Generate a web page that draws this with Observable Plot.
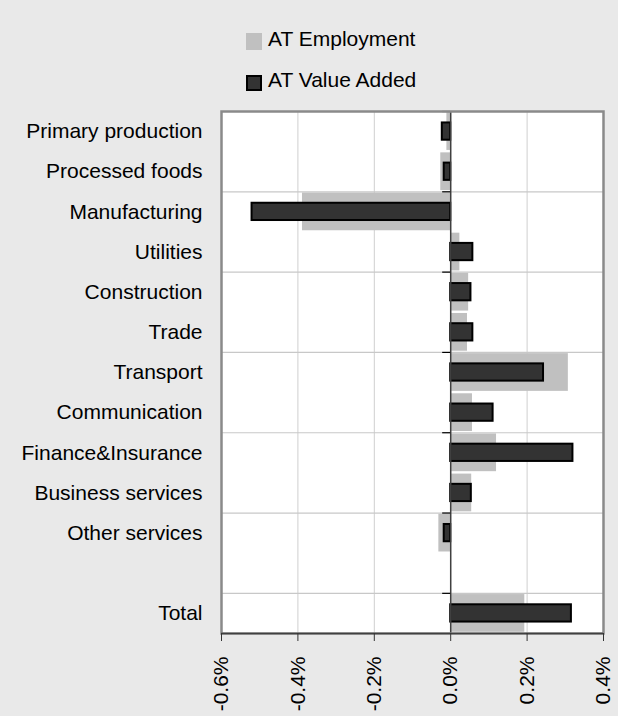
<!DOCTYPE html>
<html>
<head>
<meta charset="utf-8">
<script src="https://cdn.jsdelivr.net/npm/d3@7"></script>
<script src="https://cdn.jsdelivr.net/npm/@observablehq/plot@0.6"></script>
<style>
  html, body { margin: 0; padding: 0; background: #e9e9e9; }
  body { width: 618px; height: 716px; overflow: hidden; font-family: "Liberation Sans", Arial, sans-serif; }
  #legend { position: relative; height: 100px; width: 618px; }
  .sw { position: absolute; box-sizing: border-box; }
  .lt { position: absolute; font-size: 21px; line-height: 21px; color: #000; white-space: nowrap; }
  #chart svg { display: block; }
</style>
</head>
<body>
<div id="legend">
  <div class="sw" style="left:246px;top:33px;width:16px;height:17px;background:#c0c0c0;"></div>
  <div class="lt" style="left:268px;top:28px;">AT Employment</div>
  <div class="sw" style="left:246px;top:75px;width:16px;height:16px;background:#333333;border:2px solid #000;"></div>
  <div class="lt" style="left:268px;top:69px;">AT Value Added</div>
</div>
<div id="chart"></div>
<script>
const categories = ["Primary production", "Processed foods", "Manufacturing", "Utilities", "Construction", "Trade", "Transport", "Communication", "Finance&Insurance", "Business services", "Other services", "", "Total"];
const employment = [-0.010, -0.026, -0.388, 0.024, 0.047, 0.044, 0.308, 0.057, 0.120, 0.055, -0.031, null, 0.194];
const valueAdded = [-0.022, -0.017, -0.520, 0.058, 0.053, 0.058, 0.243, 0.111, 0.320, 0.054, -0.017, null, 0.316];
const xTicks = [-0.6, -0.4, -0.2, 0.0, 0.2, 0.4];

const rows = categories.map((c, i) => ({cat: c, i, emp: employment[i], va: valueAdded[i]}));
const bars = rows.filter(d => d.emp != null);
const gridBounds = d3.range(1.5, 12, 2);
const tickBounds = d3.range(-0.5, 13, 2);

const chart = Plot.plot({
  width: 618,
  height: 616,
  marginLeft: 221,
  marginRight: 15,
  marginTop: 11,
  marginBottom: 83,
  style: {fontFamily: "'Liberation Sans', Arial, sans-serif", background: "transparent", color: "#000"},
  x: {domain: [-0.6, 0.4]},
  y: {domain: [-0.5, 12.5], reverse: true, axis: null},
  marks: [
    Plot.frame({fill: "white", stroke: null}),
    Plot.gridX(xTicks, {stroke: "#cfcfcf", strokeOpacity: 1, strokeWidth: 1}),
    Plot.ruleY(gridBounds, {stroke: "#c8c8c8", strokeWidth: 1.2}),
    Plot.rectX(bars, {x1: 0, x2: "emp", y1: d => d.i - 0.47, y2: d => d.i + 0.47, fill: "#c0c0c0"}),
    Plot.rectX(bars, {x1: 0, x2: "va", y1: d => d.i - 0.215, y2: d => d.i + 0.215, fill: "#333333", stroke: "#000", strokeWidth: 2}),
    Plot.ruleX([0], {stroke: "#404040", strokeWidth: 1.5}),
    Plot.ruleY(tickBounds, {x1: -0.021, x2: 0, stroke: "#000", strokeWidth: 1.2}),
    Plot.frame({stroke: "#8a8a8a", strokeWidth: 2.5}),
    Plot.ruleY([12.5], {stroke: "#404040", strokeWidth: 1.5}),
    Plot.text(rows.filter(d => d.cat !== ""), {frameAnchor: "left", y: "i", text: "cat", textAnchor: "end", dx: -19, fontSize: 21, fill: "#000"}),
    Plot.axisX(xTicks, {
      anchor: "bottom",
      tickSize: 8,
      tickPadding: 15,
      tickRotate: -90,
      tickFormat: d => d.toFixed(1) + "%",
      fontSize: 21,
      stroke: "#333",
      fill: "#000"
    })
  ]
});
document.getElementById("chart").appendChild(chart);
</script>
</body>
</html>
